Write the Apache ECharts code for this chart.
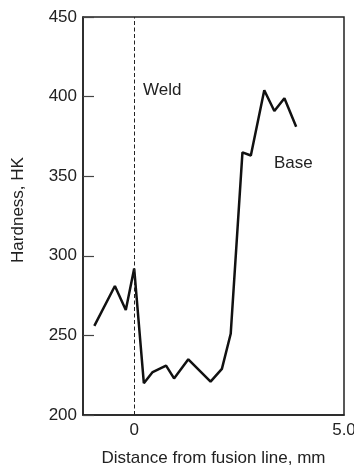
<!DOCTYPE html>
<html><head><meta charset="utf-8">
<script src="https://cdn.jsdelivr.net/npm/echarts@6/dist/echarts.min.js"></script>
<style>html,body{margin:0;padding:0;background:#fff}#c{width:354px;height:465px}</style>
</head><body><div id="c"></div>
<script>
const distance = [-0.95, -0.46, -0.2, 0.0, 0.23, 0.44, 0.76, 0.95, 1.29, 1.82, 2.09, 2.30, 2.58, 2.78, 3.10, 3.34, 3.58, 3.86];
const hardness = [256, 281, 266, 292, 220, 227, 231, 223, 235, 221, 229, 251, 365, 363, 404, 391, 399, 381];
const xTickLabels = [0, 5];
const yTicks = [200, 250, 300, 350, 400, 450];
const annotations = [{name: 'Weld', x: 0.21, y: 404}, {name: 'Base', x: 3.33, y: 358}];

const font = 'Liberation Sans, Arial, sans-serif';
const ink = '#222';
const chart = echarts.init(document.getElementById('c'));
chart.setOption({
  animation: false,
  grid: {left: 83, right: 10, top: 17, bottom: 50, containLabel: false, outerBoundsMode: 'none',
         show: true, borderColor: ink, borderWidth: 1.5, backgroundColor: 'transparent'},
  xAxis: {
    type: 'value', min: -1.22, max: 5,
    axisLine: {show: true, onZero: false, lineStyle: {color: ink, width: 1.5}},
    axisTick: {show: false},
    splitLine: {show: false},
    axisLabel: {customValues: xTickLabels, formatter: v => v === 5 ? '5.0' : String(v), color: ink, fontSize: 17, fontFamily: font, margin: 7, showMaxLabel: true, hideOverlap: false},
    name: 'Distance from fusion line, mm', nameLocation: 'middle', nameGap: 35,
    nameTextStyle: {color: ink, fontSize: 17, fontFamily: font}
  },
  yAxis: {
    type: 'value', min: yTicks[0], max: yTicks[yTicks.length - 1], interval: 50,
    axisLine: {show: true, onZero: false, lineStyle: {color: ink, width: 1.5}},
    axisTick: {show: true, inside: true, length: 11, lineStyle: {color: '#444', width: 1.2}},
    splitLine: {show: false},
    axisLabel: {color: ink, fontSize: 17, fontFamily: font, margin: 6}
  },
  graphic: [{
    type: 'text', x: 18, y: 210, rotation: Math.PI / 2,
    style: {text: 'Hardness, HK', fill: ink, fontSize: 17, fontFamily: font, align: 'center', verticalAlign: 'middle'}
  }],
  series: [{
    type: 'line', data: distance.map((d, i) => [d, hardness[i]]),
    symbol: 'none', lineStyle: {color: '#111', width: 2.5}, z: 3,
    markLine: {
      silent: true, symbol: 'none', label: {show: false},
      lineStyle: {color: ink, type: [4, 2.5], width: 1},
      data: [{xAxis: 0}]
    },
    markPoint: {
      symbol: 'circle', symbolSize: 0,
      label: {show: true, formatter: p => p.name, color: ink, fontSize: 17, fontFamily: font, position: 'right', distance: 0},
      data: annotations.map(a => ({name: a.name, coord: [a.x, a.y]}))
    }
  }]
});
</script></body></html>
